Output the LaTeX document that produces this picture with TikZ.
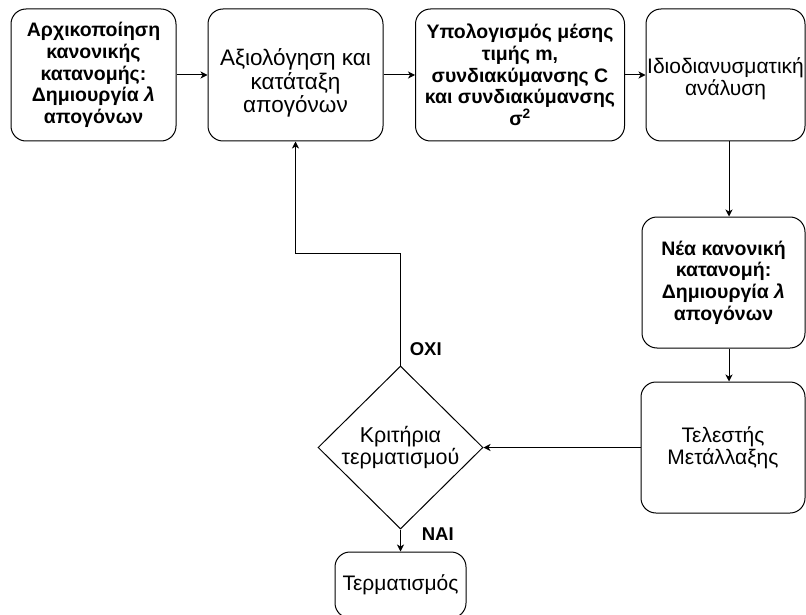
\documentclass[tikz,border=0pt]{standalone}
\usepackage{fontspec}
\setmainfont{Liberation Sans}
\usetikzlibrary{shapes.geometric,arrows.meta}
\begin{document}
\begin{tikzpicture}[x=1pt,y=-1pt,
  line width=1pt,
  txt/.style={align=center,font=\fontsize{21}{21.7}\selectfont},
  btxt/.style={align=center,font=\fontsize{19.5}{21.7}\selectfont\bfseries},
  lbl/.style={anchor=west,font=\fontsize{18.5}{21.7}\selectfont\bfseries},
  box/.style={draw,rounded corners=15pt,inner sep=0pt},
  arr/.style={-{Stealth[length=7pt,width=7pt,inset=2pt]}}]
\useasboundingbox (0,0) rectangle (806,615);
\node[box,btxt,minimum width=165pt,minimum height=132pt] (b1) at (93.5,75)
  {Αρχικοποίηση\\κανονικής\\κατανομής:\\Δημιουργία \textit{λ}\\απογόνων};
\node[box,txt,font=\fontsize{22.5}{21.7}\selectfont,minimum width=175pt,minimum height=132pt] (b2) at (295.5,75)
  {\raisebox{-9pt}[\height][\depth]{\begin{tabular}{@{}c@{}}Αξιολόγηση και\\κατάταξη\\απογόνων\end{tabular}}};
\node[box,btxt,minimum width=209pt,minimum height=132pt] (b3) at (520,75)
  {Υπολογισμός μέσης\\τιμής m,\\συνδιακύμανσης C\\και συνδιακύμανσης\\σ\textsuperscript{2}};
\node[box,txt,minimum width=159pt,minimum height=132pt] (b4) at (725.5,75)
  {\raisebox{-5pt}[\height][\depth]{\begin{tabular}{@{}c@{}}Ιδιοδιανυσματική\\ανάλυση\end{tabular}}};
\node[box,btxt,minimum width=163pt,minimum height=131pt] (b5) at (723.5,282.5)
  {Νέα κανονική\\κατανομή:\\Δημιουργία \textit{λ}\\απογόνων};
\node[box,txt,minimum width=164pt,minimum height=131pt] (b6) at (723,447.5)
  {Τελεστής\\Μετάλλαξης};
\node[draw,diamond,txt,font=\fontsize{21.5}{21.7}\selectfont,inner sep=0pt,minimum width=165pt,minimum height=163pt] (d) at (400.5,447.5)
  {Κριτήρια\\τερματισμού};
\node[box,txt,minimum width=131pt,minimum height=66pt] (t) at (400.5,585)
  {Τερματισμός};
\coordinate (v) at (729,0);
\coordinate (k) at (0,253);
\draw[arr] (b1) -- (b2);
\draw[arr] (b2) -- (b3);
\draw[arr] (b3) -- (b4);
\draw[arr] (b4.south -| v) -- (b5.north -| v);
\draw[arr] (b5.south -| v) -- (b6.north -| v);
\draw[arr] (b6) -- (d.east);
\draw[arr] (d.north) -- (d.north |- k) -| (b2.south);
\draw[arr] (d.south) -- (t.north);
\node[lbl] (oxi) at (406,349) {ΟΧΙ};
\node[lbl] (nai) at (418,534) {ΝΑΙ};
\end{tikzpicture}
\end{document}
